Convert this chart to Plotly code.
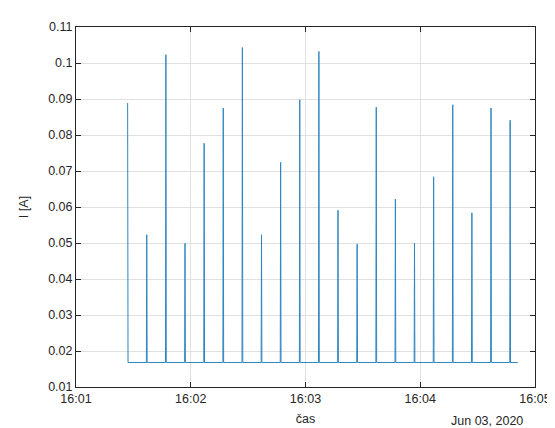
import pandas as pd
import plotly.graph_objects as go

# measured current peaks (one every ~10 s), 3 Jun 2020
day = "2020-06-03"
spike_times = ["16:01:27", "16:01:37", "16:01:47", "16:01:57", "16:02:07", "16:02:17", "16:02:27",
               "16:02:37", "16:02:47", "16:02:57", "16:03:07", "16:03:17", "16:03:27", "16:03:37",
               "16:03:47", "16:03:57", "16:04:07", "16:04:17", "16:04:27", "16:04:37", "16:04:47"]
spike_peaks = [0.0889, 0.0523, 0.1023, 0.0499, 0.0777, 0.0875, 0.1043,
               0.0523, 0.0724, 0.0898, 0.1032, 0.0591, 0.0497, 0.0877,
               0.0622, 0.0500, 0.0684, 0.0884, 0.0584, 0.0875, 0.0841]
baseline = 0.0168
end_time = "16:04:51"

# build the sampled signal: flat baseline with one-sample peaks
step = pd.Timedelta(seconds=0.2)
t = []
i = []
for k, (ts, pk) in enumerate(zip(spike_times, spike_peaks)):
    tt = pd.Timestamp(f"{day} {ts}")
    if k > 0:
        t.append(tt - step)
        i.append(baseline)
    t.append(tt)
    i.append(pk)
    t.append(tt + step)
    i.append(baseline)
t.append(pd.Timestamp(f"{day} {end_time}"))
i.append(baseline)

fig = go.Figure()
fig.add_trace(go.Scatter(x=t, y=i, mode="lines", line=dict(color="#2f86c0", width=1)))

axis_col = "#262626"
font = dict(family="Liberation Sans, Arial, sans-serif", size=12.5, color=axis_col)

fig.update_xaxes(
    range=[pd.Timestamp(f"{day} 16:01:00"), pd.Timestamp(f"{day} 16:05:00")],
    tickformat="%H:%M", dtick=60000, tick0=f"{day} 16:01:00",
    showgrid=True, gridcolor="#e0e0e0", gridwidth=1,
    showline=True, linecolor=axis_col, linewidth=1, mirror="ticks",
    ticks="inside", ticklen=5, tickcolor=axis_col,
    tickfont=font, zeroline=False,
    title=dict(text="čas", font=font, standoff=9),
)
fig.update_yaxes(
    range=[0.01, 0.11], dtick=0.01, tick0=0.01,
    showgrid=True, gridcolor="#e0e0e0", gridwidth=1,
    showline=True, linecolor=axis_col, linewidth=1, mirror="ticks",
    ticks="inside", ticklen=5, tickcolor=axis_col,
    tickfont=font, zeroline=False,
    title=dict(text="I [A]", font=font, standoff=16),
)
fig.add_annotation(text="Jun 03, 2020", xref="paper", yref="paper", x=1.0, y=0,
                   xanchor="right", yanchor="top", yshift=-25, xshift=-10,
                   showarrow=False, font=font)

fig.update_layout(
    width=555, height=428,
    margin=dict(l=68, r=17, t=18, b=40),
    paper_bgcolor="white", plot_bgcolor="white",
    showlegend=False,
)
fig.write_html("out.html")
